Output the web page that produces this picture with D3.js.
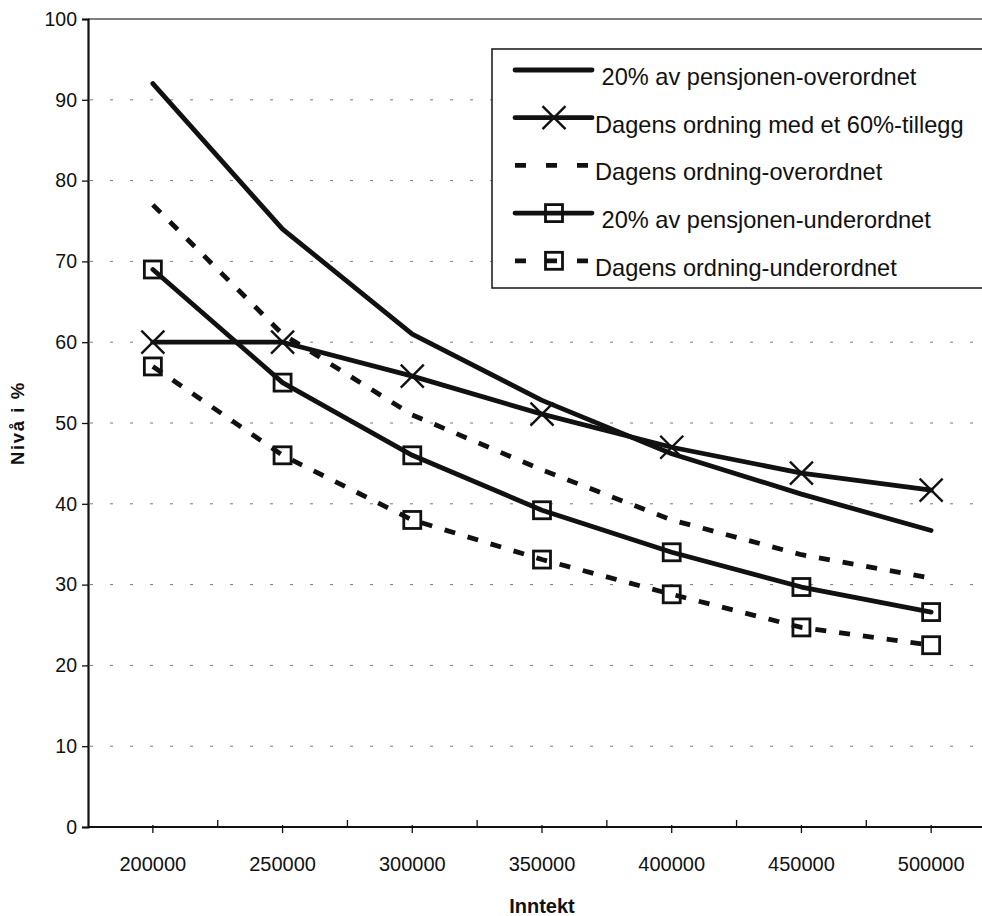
<!DOCTYPE html>
<html>
<head>
<meta charset="utf-8">
<script src="https://cdn.jsdelivr.net/npm/d3@7"></script>
<style>
  html, body { margin: 0; padding: 0; background: #fff; }
  svg { display: block; font-family: "Liberation Sans", Arial, Helvetica, sans-serif; }
  text { white-space: pre; }
</style>
</head>
<body>
<svg id="chart" width="982" height="916"></svg>
<script>
// ---- data ----
const categories = ["200000", "250000", "300000", "350000", "400000", "450000", "500000"];
const yTicks = [0, 10, 20, 30, 40, 50, 60, 70, 80, 90, 100];
const seriesNames = [
  " 20% av pensjonen-overordnet",
  "Dagens ordning med et 60%-tillegg",
  "Dagens ordning-overordnet",
  " 20% av pensjonen-underordnet",
  "Dagens ordning-underordnet"
];
const pensjonOverordnet   = [92, 74, 61, 52.8, 46.2, 41.2, 36.7];
const dagensMedTillegg    = [60, 60, 55.8, 51.1, 47.0, 43.8, 41.7];
const dagensOverordnet    = [77, 61, 51, 44.2, 38.0, 33.7, 30.8];
const pensjonUnderordnet  = [69, 55, 46, 39.2, 34.0, 29.7, 26.6];
const dagensUnderordnet   = [57, 46, 38, 33.1, 28.8, 24.7, 22.5];
const xTitle = "Inntekt";
const yTitle = "Nivå i %";

(function () {
// ---- styles per series (not data) ----
const seriesValues = [pensjonOverordnet, dagensMedTillegg, dagensOverordnet, pensjonUnderordnet, dagensUnderordnet];
const styles = [
  { dash: null, marker: null },
  { dash: null, marker: "x" },
  { dash: "11,13", marker: null },
  { dash: null, marker: "square" },
  { dash: "11,13", marker: "square" }
];

const svg = d3.select("#chart");
const mLeft = 88, mRight = 996, mTop = 19, mBottom = 827;

const x = d3.scaleBand().domain(categories).range([mLeft, mRight]).padding(0);
const cx = c => x(c) + x.bandwidth() / 2;
const y = d3.scaleLinear().domain([0, 100]).range([mBottom, mTop]);

// gridlines
svg.append("g").selectAll("line")
  .data(yTicks.filter(t => t > 0 && t < 100))
  .join("line")
  .attr("x1", mLeft + 2).attr("x2", 982)
  .attr("y1", d => y(d)).attr("y2", d => y(d))
  .attr("stroke", "#7a7a7a").attr("stroke-width", 1)
  .attr("stroke-dasharray", "3,17");

// top border
svg.append("line")
  .attr("x1", mLeft).attr("x2", 982).attr("y1", y(100)).attr("y2", y(100))
  .attr("stroke", "#555").attr("stroke-width", 1.6);

// y axis
const yAxis = d3.axisLeft(y).tickValues(yTicks).tickSize(6).tickPadding(5);
const gy = svg.append("g").attr("transform", `translate(${mLeft},0)`).call(yAxis);
gy.select(".domain").attr("stroke", "#111").attr("stroke-width", 2.2);
gy.selectAll(".tick line").attr("stroke", "#111").attr("stroke-width", 1.3);
gy.selectAll(".tick text").attr("font-size", 19.5).attr("fill", "#111")
  .attr("font-family", "Liberation Sans, Arial, sans-serif");

// x axis
const xAxis = d3.axisBottom(x).tickSize(0).tickPadding(30).tickFormat(d => d);
const gx = svg.append("g").attr("transform", `translate(0,${mBottom})`).call(xAxis);
gx.select(".domain").attr("stroke", "#111").attr("stroke-width", 2.2).attr("d", `M${mLeft},0H982`);
gx.selectAll(".tick text").attr("font-size", 20).attr("fill", "#111")
  .attr("font-family", "Liberation Sans, Arial, sans-serif");
gx.selectAll(".tick").append("line")
  .attr("y1", -2).attr("y2", 6).attr("stroke", "#111").attr("stroke-width", 1.3);
svg.append("g").selectAll("line")
  .data(categories.slice(1))
  .join("line")
  .attr("x1", d => x(d)).attr("x2", d => x(d))
  .attr("y1", mBottom - 7).attr("y2", mBottom)
  .attr("stroke", "#111").attr("stroke-width", 1.3);

// axis titles
svg.append("text").attr("x", (mLeft + mRight) / 2).attr("y", 913)
  .attr("text-anchor", "middle").attr("font-size", 20).attr("font-weight", "bold")
  .attr("fill", "#111").text(xTitle);
svg.append("text")
  .attr("transform", `translate(24,${(mTop + mBottom) / 2}) rotate(-90)`)
  .attr("text-anchor", "middle").attr("font-size", 18.5).attr("font-weight", "bold")
  .attr("letter-spacing", 1.6).attr("fill", "#111").text(yTitle);

// lines
const line = d3.line().x((d, i) => cx(categories[i])).y(d => y(d));

function drawMarker(g, type, px, py) {
  if (type === "x") {
    const s = 11.5;
    g.append("path")
      .attr("d", `M${px - s},${py - s}L${px + s},${py + s}M${px - s},${py + s}L${px + s},${py - s}`)
      .attr("stroke", "#111").attr("stroke-width", 2.4).attr("fill", "none");
  } else if (type === "square") {
    const s = 8.5;
    g.append("rect")
      .attr("x", px - s).attr("y", py - s).attr("width", 2 * s).attr("height", 2 * s)
      .attr("stroke", "#111").attr("stroke-width", 2.8).attr("fill", "none");
  }
}

const plot = svg.append("g");
seriesValues.forEach((vals, k) => {
  const st = styles[k];
  const p = plot.append("path").datum(vals)
    .attr("d", line)
    .attr("fill", "none").attr("stroke", "#111").attr("stroke-width", 4.8)
    .attr("stroke-linejoin", "round").attr("stroke-linecap", st.dash ? "butt" : "round");
  if (st.dash) p.attr("stroke-dasharray", st.dash);
  if (st.marker) {
    vals.forEach((v, i) => drawMarker(plot, st.marker, cx(categories[i]), y(v)));
  }
});

// legend
const lg = svg.append("g");
lg.append("rect").attr("x", 492).attr("y", 49).attr("width", 520).attr("height", 239)
  .attr("fill", "#fff").attr("stroke", "#222").attr("stroke-width", 1.6);
seriesNames.forEach((name, k) => {
  const st = styles[k];
  const ly = 70 + 47.7 * k;
  const l = lg.append("line").attr("x1", 515).attr("x2", 592).attr("y1", ly).attr("y2", ly)
    .attr("stroke", "#111").attr("stroke-width", 4.8);
  if (st.dash) l.attr("stroke-dasharray", "11,20");
  else l.attr("stroke-linecap", "round");
  if (st.marker) drawMarker(lg, st.marker, 554, ly);
  lg.append("text").attr("x", 595).attr("y", ly + 7)
    .attr("dominant-baseline", "central")
    .attr("font-size", 23.6).attr("fill", "#111").text(name);
});
})();
</script>
</body>
</html>
